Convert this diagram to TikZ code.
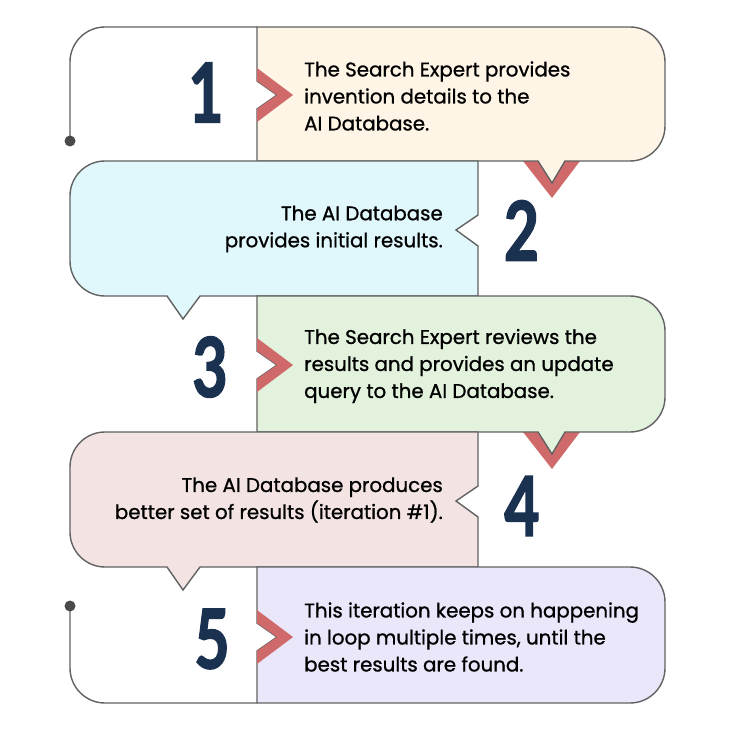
\documentclass[tikz,border=0pt]{standalone}
\usepackage{fontspec}
\setmainfont{Poppins}[FakeBold=0.9]
\newfontfamily\numfont{Lato}[FakeBold=2.2]
\definecolor{peach}{HTML}{FEF5E6}
\definecolor{sky}{HTML}{E0F7FB}
\definecolor{mint}{HTML}{E2F2DD}
\definecolor{rose}{HTML}{F3E4E3}
\definecolor{lilac}{HTML}{EAE7FB}
\definecolor{redmark}{HTML}{D06A6A}
\definecolor{navy}{HTML}{1A3150}
\definecolor{edge}{HTML}{626262}
\definecolor{dotc}{HTML}{4A4A4A}
\tikzset{
  boxline/.style={draw=edge, line width=1.4pt, line join=miter},
  outline/.style={draw=edge, line width=1.4pt},
  redmk/.style={fill=redmark, draw=none},
  numtxt/.style={inner sep=0pt, text=navy, font=\numfont\bfseries\fontsize{82}{82}\selectfont},
  bodytxt/.style={inner sep=0pt, text=black, font=\fontsize{19.8}{27}\selectfont},
}
\newcommand{\numbox}[1]{\scalebox{0.74}[1]{#1}}
\begin{document}
\begin{tikzpicture}[x=1pt,y=1pt]
\useasboundingbox[fill=white] (0,0) rectangle (730,-730);
% red V pointers below green / peach
\path[redmk] (523,-161) -- (552,-198) -- (580,-161) -- cycle;
\path[redmk] (523,-432) -- (552,-469) -- (580,-432) -- cycle;
% left outlines
\draw[outline] (70,-141) -- (70,-62) arc[start angle=180,end angle=90,radius=35] -- (257,-27);
\fill[dotc] (70,-141) circle (5.5);
\draw[outline] (70,-606) -- (70,-668) arc[start angle=180,end angle=270,radius=35] -- (257,-703);
\fill[dotc] (70,-606) circle (5.5);
% row 1
\path[boxline, fill=peach] (257,-27) -- (630,-27) arc[start angle=90,end angle=0,radius=35] -- (665,-126) arc[start angle=0,end angle=-90,radius=35] -- (565,-161) -- (552,-183) -- (538,-161) -- (257,-161) -- (257,-109) -- (277,-95) -- (257,-81) -- cycle;
\path[redmk] (257,-68) -- (293,-95) -- (257,-122) -- (257,-109) -- (277,-95) -- (257,-81) -- cycle;
% row 2
\path[boxline, fill=sky] (105,-161) -- (478,-161) -- (478,-215) -- (456,-230) -- (478,-246) -- (478,-296) -- (200,-296) -- (183,-319) -- (167,-296) -- (105,-296) arc[start angle=270,end angle=180,radius=35] -- (70,-196) arc[start angle=180,end angle=90,radius=35] -- cycle;
% row 3
\path[boxline, fill=mint] (257,-296) -- (630,-296) arc[start angle=90,end angle=0,radius=35] -- (665,-397) arc[start angle=0,end angle=-90,radius=35] -- (565,-432) -- (552,-454) -- (538,-432) -- (257,-432) -- (257,-379) -- (277,-365) -- (257,-351) -- cycle;
\path[redmk] (257,-338) -- (293,-365) -- (257,-392) -- (257,-379) -- (277,-365) -- (257,-351) -- cycle;
% row 4
\path[boxline, fill=rose] (105,-432) -- (478,-432) -- (478,-486) -- (456,-501) -- (478,-517) -- (478,-567) -- (200,-567) -- (183,-590) -- (167,-567) -- (105,-567) arc[start angle=270,end angle=180,radius=35] -- (70,-467) arc[start angle=180,end angle=90,radius=35] -- cycle;
% row 5
\path[boxline, fill=lilac] (257,-567) -- (630,-567) arc[start angle=90,end angle=0,radius=35] -- (665,-668) arc[start angle=0,end angle=-90,radius=35] -- (257,-703) -- (257,-651) -- (277,-637) -- (257,-623) -- cycle;
\path[redmk] (257,-610) -- (293,-637) -- (257,-664) -- (257,-651) -- (277,-637) -- (257,-623) -- cycle;
% numbers
\node[numtxt] (n1) at (206,-92.5) {\numbox{1}};
\node[numtxt] (n2) at (521.5,-230.5) {\numbox{2}};
\node[numtxt] (n3) at (210,-367) {\numbox{3}};
\node[numtxt] (n4) at (522,-506) {\numbox{4}};
\node[numtxt] (n5) at (212,-639) {\numbox{5}};
% texts
\node[bodytxt, anchor=west, align=left] (t1) at (304,-96) {The Search Expert provides\\invention details to the\\AI Database.};
\node[bodytxt, anchor=east, align=right] (t2) at (443,-229) {The AI Database\\provides initial results.};
\node[bodytxt, anchor=west, align=left] (t3) at (304,-366) {The Search Expert reviews the\\results and provides an update\\query to the AI Database.};
\node[bodytxt, anchor=east, align=right] (t4) at (443,-500) {The AI Database produces\\better set of results (iteration \#1).};
\node[bodytxt, anchor=west, align=left] (t5) at (304,-637) {This iteration keeps on happening\\in loop multiple times, until the\\best results are found.};
\end{tikzpicture}
\end{document}
